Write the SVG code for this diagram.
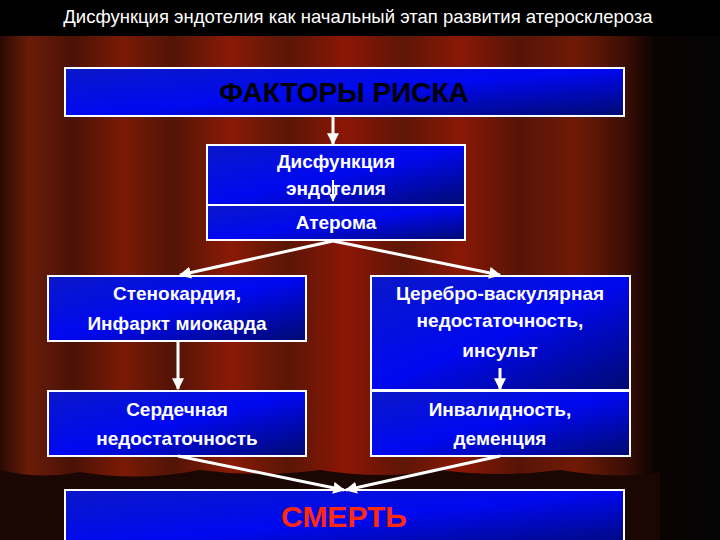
<svg xmlns="http://www.w3.org/2000/svg" width="720" height="540" viewBox="0 0 720 540">
<defs>
<linearGradient id="curt" x1="0" y1="0" x2="1" y2="0">
<stop offset="0" stop-color="#2a0a04"/><stop offset="0.04" stop-color="#6a1c08"/><stop offset="0.1" stop-color="#4a1206"/><stop offset="0.17" stop-color="#7a1a06"/><stop offset="0.24" stop-color="#521406"/><stop offset="0.32" stop-color="#8a1a06"/><stop offset="0.4" stop-color="#5a1606"/><stop offset="0.48" stop-color="#8c1606"/><stop offset="0.56" stop-color="#5e1606"/><stop offset="0.64" stop-color="#8a1806"/><stop offset="0.72" stop-color="#561406"/><stop offset="0.8" stop-color="#701a06"/><stop offset="0.87" stop-color="#3a0e04"/><stop offset="0.91" stop-color="#0a0302"/><stop offset="1" stop-color="#050505"/>
</linearGradient>
<linearGradient id="box" x1="0" y1="0" x2="1" y2="1">
<stop offset="0" stop-color="#0a18c8"/><stop offset="0.5" stop-color="#0008f0"/><stop offset="1" stop-color="#000a70"/>
</linearGradient>
<marker id="ah" viewBox="0 0 10 10" refX="9" refY="5" markerWidth="4" markerHeight="4" orient="auto"><path d="M0,0 L10,5 L0,10 z" fill="#fff"/></marker>
<style>
.b{fill:url(#box);stroke:#fff;stroke-width:2}
.t{font-family:"Liberation Sans",Arial,sans-serif;fill:#fff;font-size:19px;font-weight:bold;text-anchor:middle}
.c{stroke:#fff;stroke-width:3;fill:none;marker-end:url(#ah)}
</style>
</defs>
<rect width="720" height="540" fill="url(#curt)"/>
<rect width="720" height="36" fill="#000"/>
<path d="M0,470 Q40,480 80,472 Q140,482 200,470 Q260,478 320,470 Q380,480 440,470 Q500,478 560,470 Q620,480 660,472 L660,540 L0,540 z" fill="#1a0602"/>
<text x="358" y="23" style="font-family:'Liberation Sans',Arial,sans-serif;font-size:18.5px;fill:#fff;text-anchor:middle">Дисфункция эндотелия как начальный этап развития атеросклероза</text>
<g id="n1"><rect class="b" x="65" y="68" width="559" height="48"/><text class="t" x="344" y="102" style="font-size:28px;fill:#000">ФАКТОРЫ РИСКА</text></g>
<g id="n2"><rect class="b" x="207" y="145" width="258" height="60"/><text class="t" x="336" y="168">Дисфункция</text><text class="t" x="336" y="195">эндотелия</text></g>
<g id="n3"><rect class="b" x="207" y="205" width="258" height="35"/><text class="t" x="336" y="229">Атерома</text></g>
<g id="n4"><rect class="b" x="48" y="276" width="258" height="65"/><text class="t" x="177" y="300">Стенокардия,</text><text class="t" x="177" y="330">Инфаркт миокарда</text></g>
<g id="n5"><rect class="b" x="371" y="276" width="259" height="114"/><text class="t" x="500" y="300">Церебро-васкулярная</text><text class="t" x="500" y="327">недостаточность,</text><text class="t" x="500" y="357">инсульт</text></g>
<g id="n6"><rect class="b" x="48" y="391" width="258" height="65"/><text class="t" x="177" y="416">Сердечная</text><text class="t" x="177" y="445">недостаточность</text></g>
<g id="n7"><rect class="b" x="371" y="391" width="259" height="65"/><text class="t" x="500" y="416">Инвалидность,</text><text class="t" x="500" y="445">деменция</text></g>
<g id="n8"><rect class="b" x="65" y="490" width="559" height="60"/><text class="t" x="344" y="527" style="font-size:30px;fill:#ff2a10">СМЕРТЬ</text></g>
<g id="connectors">
<line class="c" x1="333" y1="116" x2="333" y2="144"/>
<line class="c" x1="333" y1="180" x2="333" y2="201" style="stroke-width:2"/>
<line class="c" x1="333" y1="241" x2="180" y2="275"/>
<line class="c" x1="333" y1="241" x2="500" y2="275"/>
<line class="c" x1="178" y1="342" x2="178" y2="389"/>
<line class="c" x1="500" y1="368" x2="500" y2="389"/>
<line class="c" x1="178" y1="456" x2="344" y2="490"/>
<line class="c" x1="500" y1="456" x2="346" y2="490"/>
</g>
</svg>
